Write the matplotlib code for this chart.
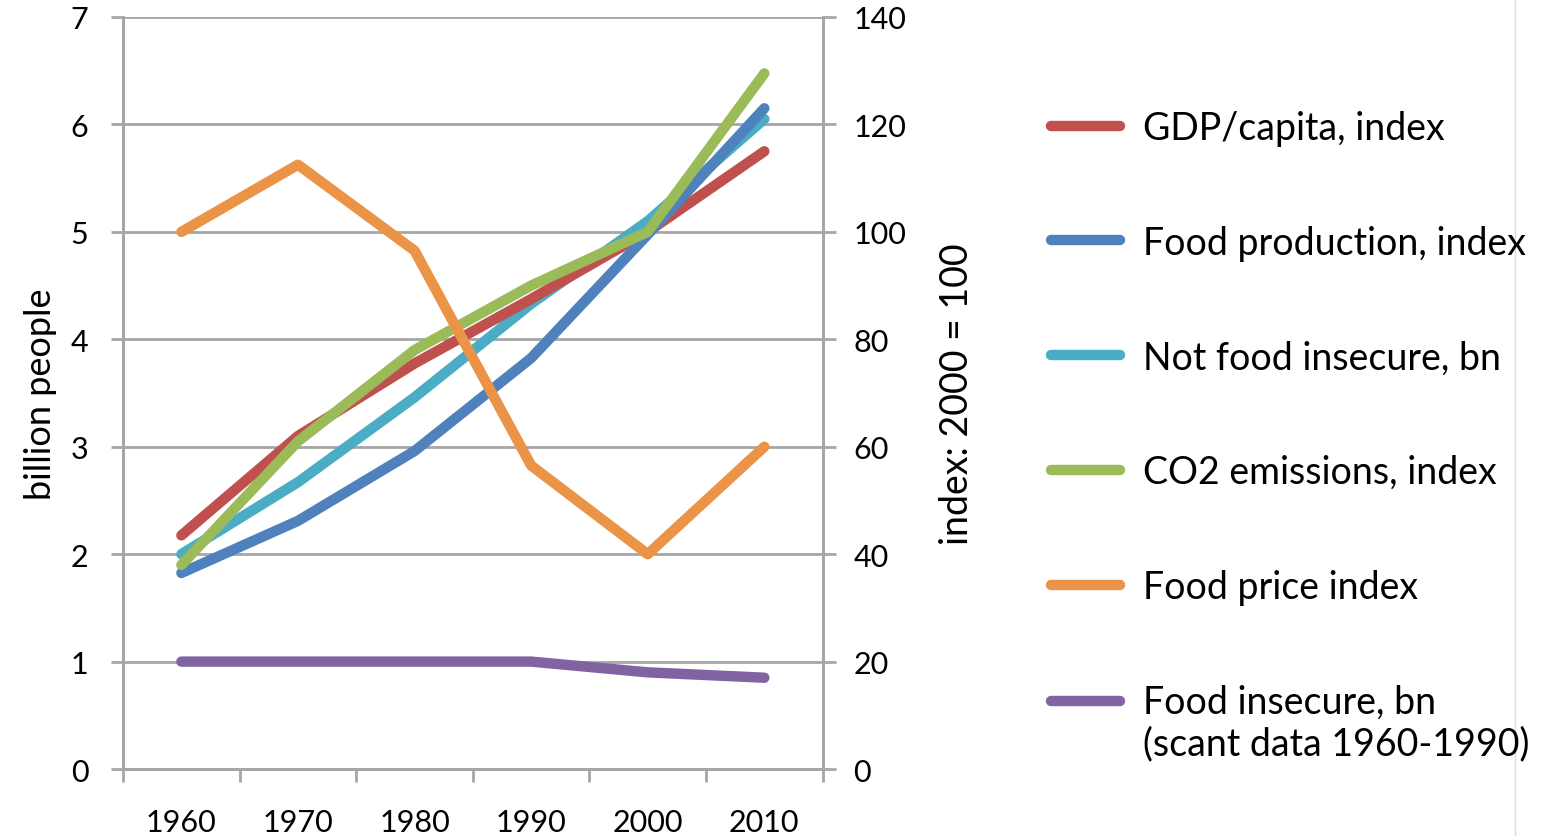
import numpy as np
import matplotlib.pyplot as plt
from matplotlib.lines import Line2D
from matplotlib.legend_handler import HandlerLine2D

# data
years = ["1960", "1970", "1980", "1990", "2000", "2010"]
gdp_index = [43.5, 62, 75.5, 87.5, 100, 115]
food_prod_index = [36.5, 46.2, 59.2, 76.5, 99.5, 123]
not_insecure_bn = [2.0, 2.67, 3.46, 4.33, 5.1, 6.05]
co2_index = [38, 61, 78, 90, 100, 129.5]
food_price_index = [100, 112.5, 96.5, 56.5, 40, 60]
insecure_bn = [1.0, 1.0, 1.0, 1.0, 0.9, 0.85]

labels = ["GDP/capita, index", "Food production, index", "Not food insecure, bn",
          "CO2 emissions, index", "Food price index",
          "Food insecure, bn\n(scant data 1960-1990)"]
colors = ["#C0504D", "#4F81BD", "#4BACC6", "#9BBB59", "#EB9447", "#8064A2"]

plt.rcParams['font.family'] = ['Lato', 'DejaVu Sans']
grey = "#A6A6A6"
lw = 7.5


class FirstLineHandler(HandlerLine2D):
    # put the legend line level with the first line of a two-line label
    def create_artists(self, legend, orig_handle, xdescent, ydescent,
                       width, height, fontsize, trans):
        arts = super().create_artists(legend, orig_handle, xdescent, ydescent,
                                      width, height, fontsize, trans)
        for a in arts:
            a.set_ydata(np.asarray(a.get_ydata()) + 0.6 * fontsize)
        return arts


fig = plt.figure(figsize=(15.58, 8.37), dpi=100)
ax = fig.add_axes([0.079, 0.08, 0.449, 0.8985])
ax2 = ax.twinx()

x = list(range(len(years)))
kw = dict(lw=lw, solid_capstyle='round', solid_joinstyle='round')

# left axis: billion people
ax.plot(x, not_insecure_bn, color=colors[2], **kw)
ax.plot(x, insecure_bn, color=colors[5], **kw)

# right axis: index 2000 = 100
ax2.plot(x, gdp_index, color=colors[0], **kw)
ax2.plot(x, food_prod_index, color=colors[1], **kw)
ax2.plot(x, co2_index, color=colors[3], **kw)
ax2.plot(x, food_price_index, color=colors[4], **kw)

ax.set_xlim(-0.5, len(years) - 0.5)
ax.set_ylim(0, 7)
ax2.set_ylim(0, 140)
ax.set_yticks(range(0, 8))
ax2.set_yticks(range(0, 141, 20))

ax.set_xticks(x)
ax.set_xticklabels(years)
ax.set_xticks([i - 0.5 for i in range(len(years) + 1)], minor=True)
ax.tick_params(axis='x', which='major', length=0, pad=28, labelsize=22)
ax.tick_params(axis='x', which='minor', length=9, width=2, color=grey, direction='out')
ax.tick_params(axis='y', length=9, width=2, color=grey, labelsize=22, pad=16)
ax2.tick_params(axis='y', length=9, width=2, color=grey, labelsize=22, pad=13)

ax.grid(axis='y', color=grey, lw=2)
ax.set_axisbelow(True)
for a in (ax, ax2):
    a.spines['top'].set_visible(False)
    for s in ('left', 'right', 'bottom'):
        a.spines[s].set_color(grey)
        a.spines[s].set_linewidth(2)

ax.set_ylabel("billion people", fontsize=26, labelpad=10)
ax2.set_ylabel("index: 2000 = 100", fontsize=27, labelpad=24)

handles = [Line2D([], [], color=c, lw=lw, solid_capstyle='round') for c in colors]
fig.legend(handles, labels, loc='upper left', bbox_to_anchor=(0.653, 0.908),
           frameon=False, fontsize=27, handlelength=1.85, handletextpad=0.6,
           labelspacing=2.1, handler_map={handles[-1]: FirstLineHandler()})

fig.add_artist(Line2D([0.9725, 0.9725], [0, 1], color="#DDDDDD", lw=1))

fig.savefig("out.png", dpi=100)
